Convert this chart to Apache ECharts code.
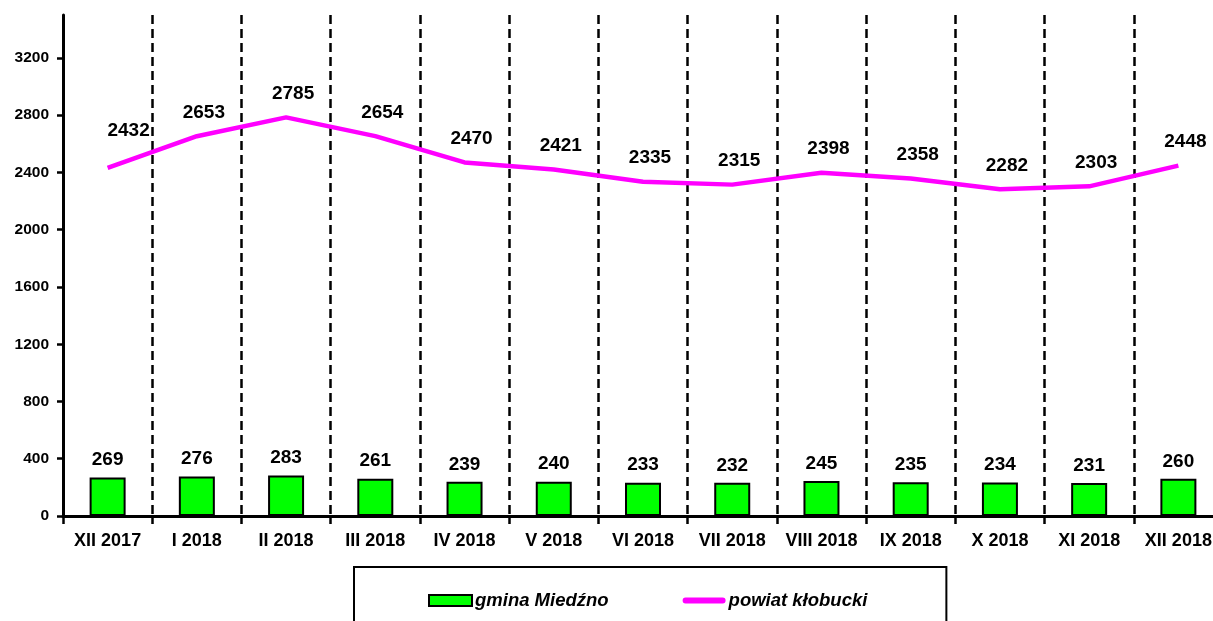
<!DOCTYPE html>
<html>
<head>
<meta charset="utf-8">
<script src="https://cdn.jsdelivr.net/npm/echarts@6/dist/echarts.min.js"></script>
<style>
  html, body { margin: 0; padding: 0; background: #fff; }
  #chart { width: 1213px; height: 621px; }
</style>
</head>
<body>
<div id="chart"></div>
<script>
const months = ['XII 2017', 'I 2018', 'II 2018', 'III 2018', 'IV 2018', 'V 2018', 'VI 2018',
  'VII 2018', 'VIII 2018', 'IX 2018', 'X 2018', 'XI 2018', 'XII 2018'];
const gmina = [269, 276, 283, 261, 239, 240, 233, 232, 245, 235, 234, 231, 260];
const powiat = [2432, 2653, 2785, 2654, 2470, 2421, 2335, 2315, 2398, 2358, 2282, 2303, 2448];

const font = 'Liberation Sans, Arial, sans-serif';
const chart = echarts.init(document.getElementById('chart'));

// first label of the line sits further up and right in the original
const powiatLabels = powiat.map((v, i) => i === 0 ? { value: v, label: { offset: [21, -14] } } : v);

chart.setOption({
  animation: false,
  grid: { left: 63, top: 15, width: 1160, bottom: 105, outerBoundsMode: 'none', containLabel: false },
  legend: {
    left: 354, top: 567,
    padding: [24, 79, 40, 74],
    borderColor: '#000', borderWidth: 2,
    itemGap: 74, itemWidth: 43, itemHeight: 11,
    textStyle: { fontFamily: font, fontSize: 18.5, fontWeight: 'bold', fontStyle: 'italic', color: '#000', padding: [0, 0, 0, -2] },
    data: [
      { name: 'gmina Miedźno', icon: 'rect' },
      { name: 'powiat kłobucki', icon: 'path://M3,0h38a3,3 0 0 1 0,6h-38a3,3 0 0 1 0,-6z' }
    ]
  },
  xAxis: {
    type: 'category',
    data: months,
    boundaryGap: true,
    axisLine: { lineStyle: { color: '#000', width: 3 } },
    axisTick: { show: true, length: 8, lineStyle: { color: '#000', width: 2.5 } },
    axisLabel: { fontFamily: font, fontSize: 18, fontWeight: 'bold', color: '#000', margin: 16, interval: 0 },
    splitLine: { show: true, lineStyle: { color: '#000', width: 2.5, type: [9, 5] } }
  },
  yAxis: {
    type: 'value',
    min: 0, max: 3500, interval: 400,
    axisLine: { show: true, lineStyle: { color: '#000', width: 3 } },
    axisTick: { show: true, length: 6, lineStyle: { color: '#000', width: 2.5 } },
    axisLabel: {
      fontFamily: font, fontSize: 15.5, fontWeight: 'bold', color: '#000', margin: 14,
      showMaxLabel: false, formatter: v => String(v)
    },
    splitLine: { show: false }
  },
  series: [
    {
      name: 'gmina Miedźno',
      type: 'bar',
      data: gmina,
      barWidth: 36,
      itemStyle: { color: '#00ff00', borderColor: '#000', borderWidth: 2 },
      label: { show: true, position: 'top', distance: 8, fontFamily: font, fontSize: 19, fontWeight: 'bold', color: '#000' }
    },
    {
      name: 'powiat kłobucki',
      type: 'line',
      data: powiat,
      symbol: 'none',
      lineStyle: { color: '#ff00ff', width: 4.5 },
      itemStyle: { color: '#ff00ff' }
    },
    {
      // carries the value labels of the line
      name: 'powiat labels',
      type: 'scatter',
      data: powiatLabels,
      symbolSize: 0,
      silent: true,
      itemStyle: { opacity: 1 },
      label: { show: true, position: 'top', distance: 14, offset: [7, 0], opacity: 1, fontFamily: font, fontSize: 19, fontWeight: 'bold', color: '#000' }
    }
  ]
});
</script>
</body>
</html>
